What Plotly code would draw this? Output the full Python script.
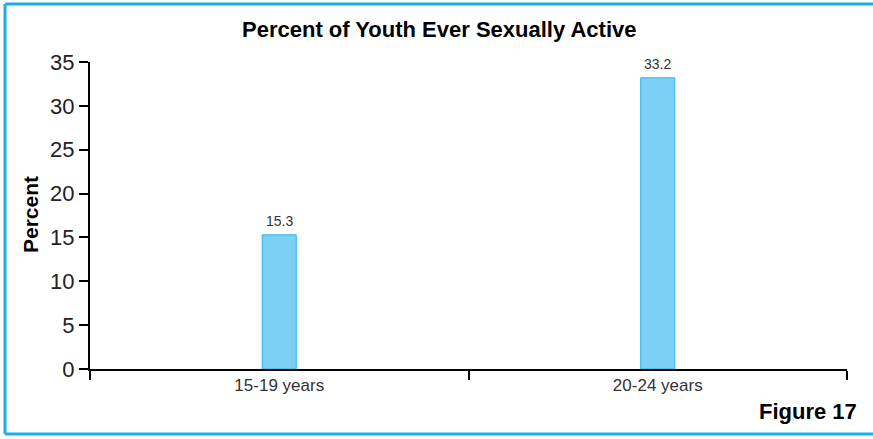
import plotly.graph_objects as go

# Share of youth who have ever been sexually active, by age group
age_groups = ["15-19 years", "20-24 years"]
percent_active = [15.3, 33.2]
y_ticks = [0, 5, 10, 15, 20, 25, 30, 35]

FONT = "Liberation Sans Narrow, Arial Narrow, Liberation Sans, sans-serif"

W, H = 873, 439
L, R, T, B = 90, 26, 62, 70
pw, ph = W - L - R, H - T - B


def px(x):
    return (x - L) / pw


def py(y):
    return (H - B - y) / ph


fig = go.Figure(
    go.Bar(
        x=age_groups,
        y=percent_active,
        width=0.09,
        marker=dict(color="#7DD0F5", line=dict(color="#29B5EA", width=1)),
        cliponaxis=False,
    )
)

# value labels above each bar
for cat, val in zip(age_groups, percent_active):
    fig.add_annotation(
        x=cat, y=val, text=f"{val:.1f}", showarrow=False,
        xanchor="center", yanchor="bottom", yshift=4,
        font=dict(family=FONT, size=14, color="#333333"),
    )

border = dict(color="#1AAFE8", width=3)
fig.add_shape(type="line", xref="paper", yref="paper",
              x0=px(5), x1=px(W + 5), y0=py(4), y1=py(4), line=border)
fig.add_shape(type="line", xref="paper", yref="paper",
              x0=px(5), x1=px(W + 5), y0=py(434), y1=py(434), line=border)
fig.add_shape(type="line", xref="paper", yref="paper",
              x0=px(5), x1=px(5), y0=py(4), y1=py(434), line=border)

fig.add_annotation(
    text="<b>Percent of Youth Ever Sexually Active</b>",
    xref="paper", yref="paper", x=px(439), y=py(30),
    xanchor="center", yanchor="middle", showarrow=False,
    font=dict(family=FONT, size=22, color="#000000"),
)
fig.add_annotation(
    text="<b>Figure 17</b>",
    xref="paper", yref="paper", x=px(859), y=py(411),
    xanchor="right", yanchor="middle", showarrow=False,
    font=dict(family=FONT, size=22, color="#000000"),
)
fig.add_annotation(
    text="<b>Percent</b>",
    xref="paper", yref="paper", x=px(30), y=py(215),
    xanchor="center", yanchor="middle", showarrow=False, textangle=-90,
    font=dict(family=FONT, size=21, color="#000000"),
)

fig.update_layout(
    width=W, height=H,
    margin=dict(l=L, r=R, t=T, b=B),
    paper_bgcolor="white", plot_bgcolor="white",
    showlegend=False,
)
fig.update_xaxes(
    type="category", range=[-0.5, 1.5],
    showline=True, linecolor="#000000", linewidth=2,
    ticks="outside", tickson="boundaries", ticklen=9, tickwidth=1.5, tickcolor="#000000",
    showgrid=False, zeroline=False,
    tickfont=dict(family=FONT, size=17, color="#333333"),
)
fig.update_yaxes(
    range=[0, 35], tickvals=y_ticks,
    showline=True, linecolor="#000000", linewidth=2,
    ticks="outside", ticklen=9, tickwidth=1.5, tickcolor="#000000",
    showgrid=False, zeroline=False,
    tickfont=dict(family=FONT, size=22, color="#222222"),
)

fig.write_html("out.html")
